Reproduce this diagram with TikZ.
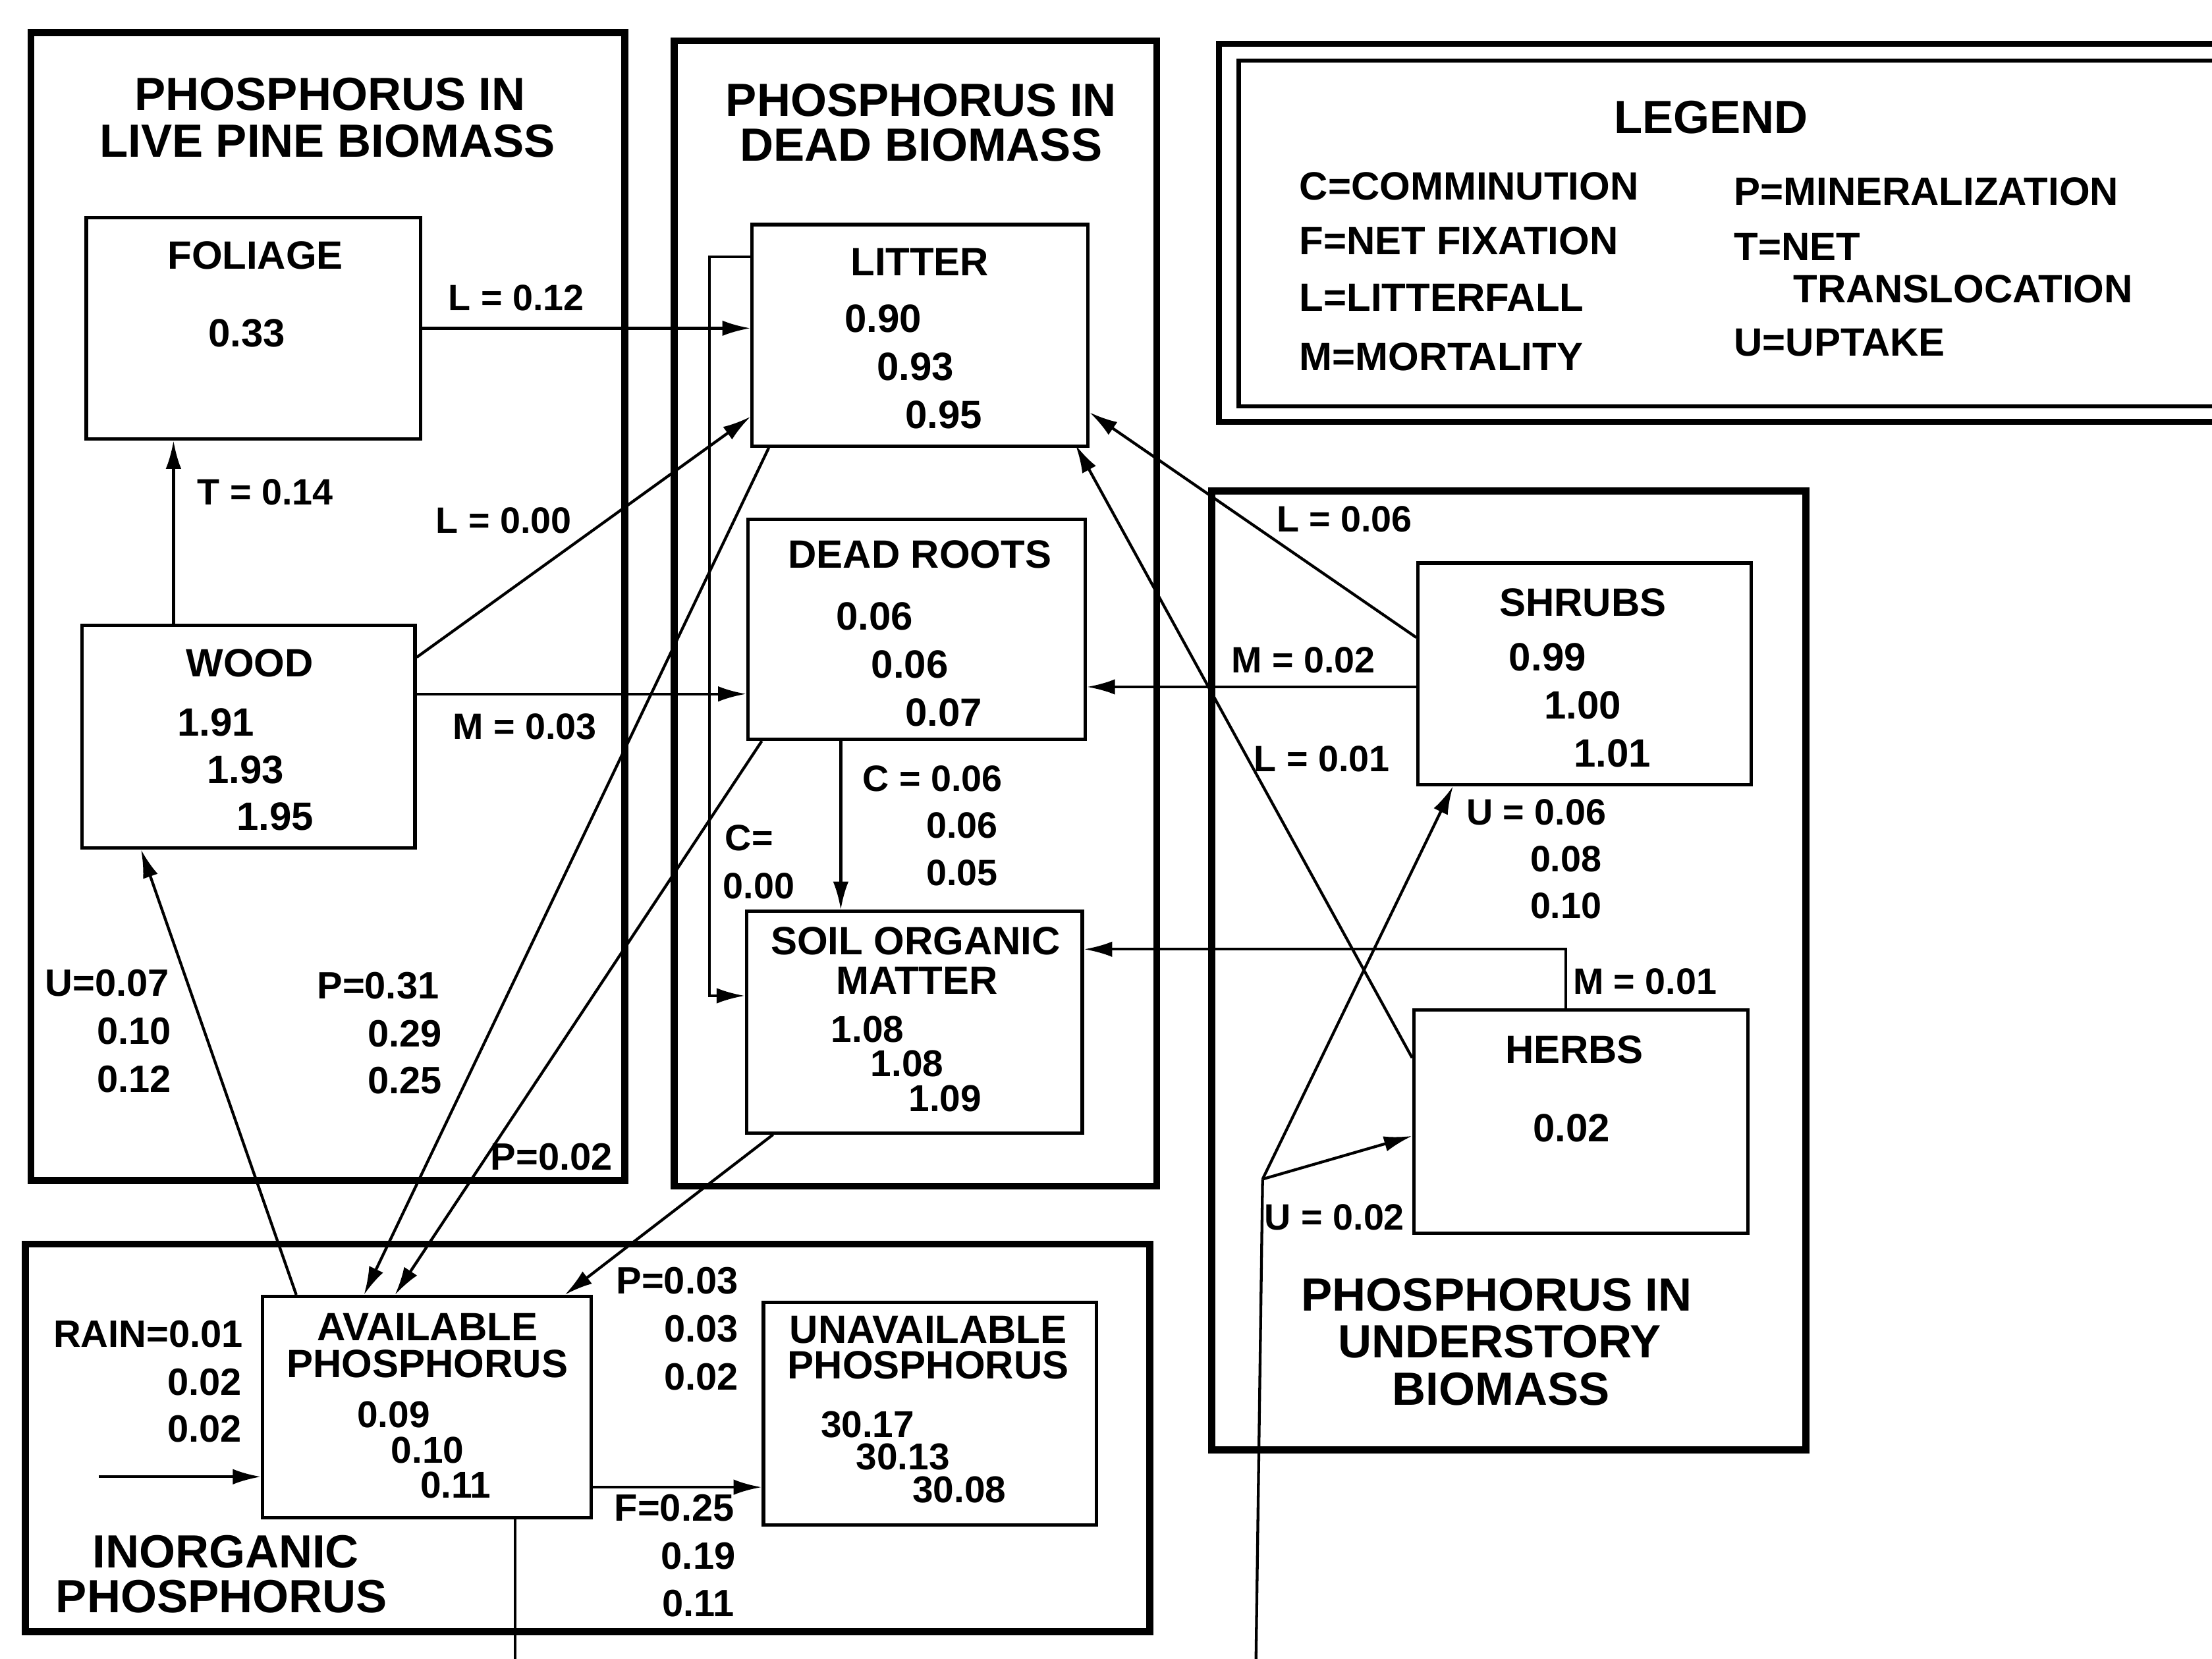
\documentclass[tikz,border=0pt]{standalone}
\usepackage{fontspec}
\setmainfont{Liberation Sans}
\usetikzlibrary{arrows.meta,calc}
\tikzset{
  frame/.style={draw=black,line width=5pt},
  box/.style={draw=black,line width=2.4pt,rectangle,inner sep=0pt,anchor=north west},
  conn/.style={draw=black,line width=2pt},
  arr/.style={conn,-{Latex[length=20pt,width=11pt]}},
  ttl/.style={inner sep=0pt,font=\fontsize{33}{35}\selectfont\bfseries},
  nm/.style={inner sep=0pt,font=\fontsize{28}{30}\selectfont\bfseries},
  num/.style={inner sep=0pt,font=\fontsize{28}{30}\selectfont\bfseries},
  numb/.style={inner sep=0pt,font=\fontsize{26.5}{28}\selectfont\bfseries},
  lbl/.style={inner sep=0pt,font=\fontsize{26}{28}\selectfont\bfseries},
  lblc/.style={inner sep=0pt,font=\fontsize{27}{29}\selectfont\bfseries},
  leg/.style={inner sep=0pt,anchor=west,font=\fontsize{28}{30}\selectfont\bfseries},
}
\begin{document}
\begin{tikzpicture}[x=1pt,y=-1pt]
\useasboundingbox (0,0) rectangle (1568,1176);
\clip (0,0) rectangle (1568,1176);
\fill[white] (0,0) rectangle (1568,1176);

% ---------- frames ----------
\draw[frame] (22,23) rectangle (443,837);
\draw[frame] (478,29) rectangle (820,841);
\draw[frame] (859,348) rectangle (1280,1028);
\draw[frame] (18,882) rectangle (815,1157);
\draw[black,line width=4.5pt] (1620,31) -- (864,31) -- (864,299) -- (1620,299);
\draw[black,line width=3pt] (1620,43) -- (878,43) -- (878,288) -- (1620,288);

% ---------- titles ----------
\node[ttl] (t1a) at (234,67) {PHOSPHORUS IN};
\node[ttl] (t1b) at (232,100) {LIVE PINE BIOMASS};
\node[ttl] (t2a) at (653,71) {PHOSPHORUS IN};
\node[ttl] (t2b) at (653,103) {DEAD BIOMASS};
\node[ttl] (t3a) at (1061,918) {PHOSPHORUS IN};
\node[ttl] (t3b) at (1063,951) {UNDERSTORY};
\node[ttl] (t3c) at (1064,985) {BIOMASS};
\node[ttl] (t4a) at (160,1100) {INORGANIC};
\node[ttl] (t4b) at (157,1132) {PHOSPHORUS};

% ---------- legend ----------
\node[inner sep=0pt,font=\fontsize{33}{35}\selectfont\bfseries] (legt) at (1213,83) {LEGEND};
\node[leg] (lc) at (921,132) {C=COMMINUTION};
\node[leg] (lf) at (921,171) {F=NET FIXATION};
\node[leg] (ll) at (921,211) {L=LITTERFALL};
\node[leg] (lm) at (921,253) {M=MORTALITY};
\node[leg] (lp) at (1229,136) {P=MINERALIZATION};
\node[leg] (lt) at (1229,175) {T=NET};
\node[leg] (lt2) at (1271,205) {TRANSLOCATION};
\node[leg] (lu) at (1229,243) {U=UPTAKE};

% ---------- compartment boxes ----------
\node[box,minimum width=237pt,minimum height=157pt] (foliage) at (60,153) {};
\node[box,minimum width=236pt,minimum height=158pt] (wood) at (57,442) {};
\node[box,minimum width=238pt,minimum height=157pt] (litter) at (532,158) {};
\node[box,minimum width=239pt,minimum height=156pt] (roots) at (529,367) {};
\node[box,minimum width=238pt,minimum height=157pt] (som) at (528,645) {};
\node[box,minimum width=236pt,minimum height=157pt] (shrubs) at (1004,398) {};
\node[box,minimum width=237pt,minimum height=158pt] (herbs) at (1001,715) {};
\node[box,minimum width=233pt,minimum height=157pt] (avail) at (185,918) {};
\node[box,minimum width=236pt,minimum height=158pt] (unavail) at (540,922) {};

% box texts
\node[nm] (fol1) at (181,181) {FOLIAGE};
\node[num] (fol2) at (175,236) {0.33};
\node[nm] (wo1) at (177,470) {WOOD};
\node[num] (wo2) at (153,512) {1.91};
\node[num] (wo3) at (174,546) {1.93};
\node[num] (wo4) at (195,579) {1.95};
\node[nm] (li1) at (652,186) {LITTER};
\node[num] (li2) at (626,226) {0.90};
\node[num] (li3) at (649,260) {0.93};
\node[num] (li4) at (669,294) {0.95};
\node[nm] (dr1) at (652,393) {DEAD ROOTS};
\node[num] (dr2) at (620,437) {0.06};
\node[num] (dr3) at (645,471) {0.06};
\node[num] (dr4) at (669,505) {0.07};
\node[nm] (so1) at (649,667) {SOIL ORGANIC};
\node[nm] (so2) at (650,695) {MATTER};
\node[numb] (so3) at (615,730) {1.08};
\node[numb] (so4) at (643,754) {1.08};
\node[numb] (so5) at (670,779) {1.09};
\node[nm] (sh1) at (1122,427) {SHRUBS};
\node[num] (sh2) at (1097,466) {0.99};
\node[num] (sh3) at (1122,500) {1.00};
\node[num] (sh4) at (1143,534) {1.01};
\node[nm] (he1) at (1116,744) {HERBS};
\node[num] (he2) at (1114,800) {0.02};
\node[nm] (av1) at (303,941) {AVAILABLE};
\node[nm] (av2) at (303,967) {PHOSPHORUS};
\node[numb] (av3) at (279,1003) {0.09};
\node[numb] (av4) at (303,1028) {0.10};
\node[numb] (av5) at (323,1053) {0.11};
\node[nm] (un1) at (658,943) {UNAVAILABLE};
\node[nm] (un2) at (658,968) {PHOSPHORUS};
\node[numb] (un3) at (615,1010) {30.17};
\node[numb] (un4) at (640,1033) {30.13};
\node[numb] (un5) at (680,1056) {30.08};

% ---------- connector end points ----------
\coordinate (woodM) at ($(wood.north east)+(0,50)$);
\coordinate (rootsC) at ($(roots.south west)+(67,0)$);
\coordinate (shrubM) at ($(shrubs.north west)+(0,89)$);
\coordinate (availF) at ($(avail.south east)+(0,-23)$);
\coordinate (rainsrc) at (70,1047);
\coordinate (availdown) at (365,1200);
\coordinate (ujunc) at (895,836);
\coordinate (uup) at (890,1200);

% ---------- connectors ----------
\draw[arr] (foliage.east) -- (foliage.east -| litter.west);
\draw[arr] ($(wood.north west)+(66,0)$) -- ($(foliage.south west)+(63,0)$);
\draw[arr] ($(wood.north east)+(0,24)$) -- ($(litter.south west)+(0,-22)$);
\draw[arr] (woodM) -- (woodM -| roots.west);
\draw[arr] ($(litter.south west)+(13,0)$) -- ($(avail.north west)+(73,0)$);
\draw[arr] ($(roots.south west)+(11,0)$) -- ($(avail.north west)+(95,0)$);
\draw[arr] ($(avail.north west)+(25,0)$) -- ($(wood.south west)+(43,0)$);
\draw[arr] ($(som.south west)+(20,0)$) -- ($(avail.north east)+(-20,0)$);
\draw[arr] ($(litter.north west)+(0,24)$) -- ++(-29,0) -- (503,706) -- ($(som.north west)+(0,61)$);
\draw[arr] (rootsC) -- (rootsC |- som.north);
\draw[arr] ($(shrubs.north west)+(0,54)$) -- ($(litter.south east)+(0,-25)$);
\draw[arr] (shrubM) -- (shrubM -| roots.east);
\draw[arr] ($(herbs.north west)+(0,35)$) -- ($(litter.south east)+(-10,-2)$);
\draw[arr] ($(herbs.north west)+(109,0)$) |- ($(som.north east)+(0,28)$);
\draw[arr] (rainsrc) -- (rainsrc -| avail.west);
\draw[arr] (availF) -- (availF -| unavail.west);
\draw[conn] ($(avail.south west)+(180,0)$) -- (availdown);
\draw[conn] (uup) -- (ujunc);
\draw[arr] (ujunc) -- ($(shrubs.south west)+(26,0)$);
\draw[arr] (ujunc) -- ($(herbs.south west)+(0,-70)$);

% ---------- flow labels ----------
\node[lbl] (f1) at (366,211) {L = 0.12};
\node[lbl] (f2) at (188,349) {T = 0.14};
\node[lbl] (f3) at (357,369) {L = 0.00};
\node[lbl] (f4) at (372,515) {M = 0.03};
\node[lblc] (f5a) at (76,697) {U=0.07};
\node[lblc] (f5b) at (95,731) {0.10};
\node[lblc] (f5c) at (95,765) {0.12};
\node[lblc] (f6a) at (268,699) {P=0.31};
\node[lblc] (f6b) at (287,733) {0.29};
\node[lblc] (f6c) at (287,766) {0.25};
\node[lblc] (f7) at (391,820) {P=0.02};
\node[lbl] (f8a) at (661,552) {C = 0.06};
\node[lbl] (f8b) at (682,585) {0.06};
\node[lbl] (f8c) at (682,619) {0.05};
\node[lbl] (f9a) at (531,594) {C=};
\node[lbl] (f9b) at (538,628) {0.00};
\node[lbl] (f10) at (953,368) {L = 0.06};
\node[lbl] (f11) at (924,468) {M = 0.02};
\node[lbl] (f12) at (937,538) {L = 0.01};
\node[lbl] (f13a) at (1089,576) {U = 0.06};
\node[lbl] (f13b) at (1110,609) {0.08};
\node[lbl] (f13c) at (1110,642) {0.10};
\node[lbl] (f14) at (1166,696) {M = 0.01};
\node[lbl] (f15) at (946,863) {U = 0.02};
\node[lblc] (f16a) at (105,946) {RAIN=0.01};
\node[lblc] (f16b) at (145,980) {0.02};
\node[lblc] (f16c) at (145,1013) {0.02};
\node[lblc] (f17a) at (480,908) {P=0.03};
\node[lblc] (f17b) at (497,942) {0.03};
\node[lblc] (f17c) at (497,976) {0.02};
\node[lblc] (f18a) at (478,1069) {F=0.25};
\node[lblc] (f18b) at (495,1103) {0.19};
\node[lblc] (f18c) at (495,1137) {0.11};
\end{tikzpicture}
\end{document}
